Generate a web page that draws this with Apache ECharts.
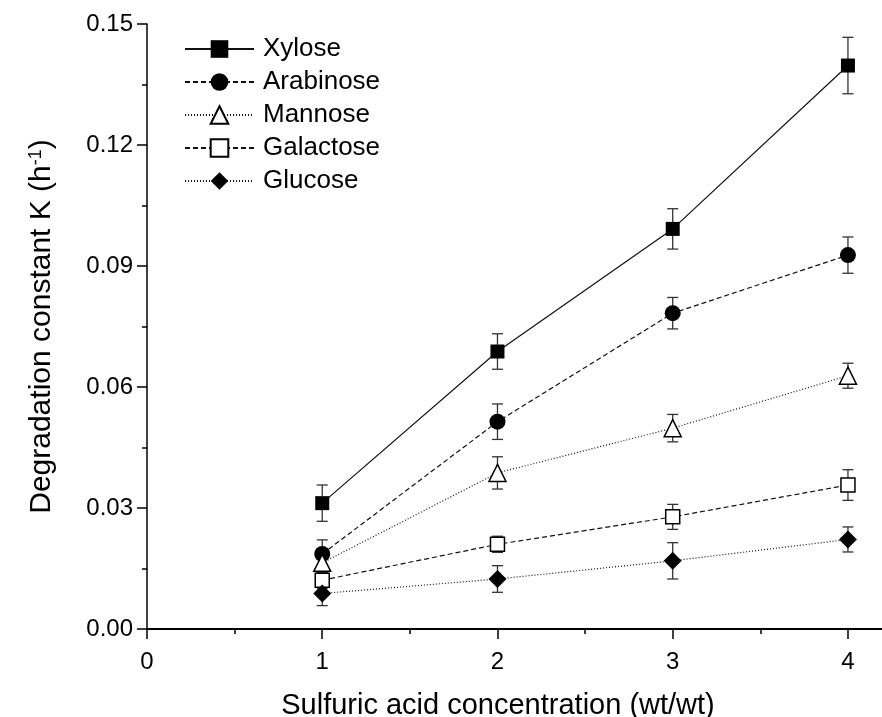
<!DOCTYPE html>
<html lang="en">
<head>
<meta charset="UTF-8">
<title>Degradation constant</title>
<style>
  html, body { margin: 0; padding: 0; background: #fff; }
  #main { width: 882px; height: 717px; }
</style>
</head>
<body>
<div id="main"></div>
<script src="https://cdn.jsdelivr.net/npm/echarts@6/dist/echarts.min.js"></script>
<script>
var conc = [1, 2, 3, 4];
var sugars = ['Xylose', 'Arabinose', 'Mannose', 'Galactose', 'Glucose'];
var xylose = [0.0312, 0.0688, 0.0992, 0.1397];
var xyloseErr = [0.0045, 0.0044, 0.0050, 0.0070];
var arabinose = [0.0186, 0.0514, 0.0783, 0.0927];
var arabinoseErr = [0.0035, 0.0044, 0.0039, 0.0045];
var mannose = [0.0164, 0.0387, 0.0498, 0.0628];
var mannoseErr = [0.0025, 0.0040, 0.0034, 0.0031];
var galactose = [0.0121, 0.0210, 0.0278, 0.0357];
var galactoseErr = [0.0020, 0.0020, 0.0031, 0.0038];
var glucose = [0.0088, 0.0124, 0.0169, 0.0222];
var glucoseErr = [0.0030, 0.0033, 0.0045, 0.0031];
var xTicks = [0, 1, 2, 3, 4];
var xMinorTicks = [0.5, 1.5, 2.5, 3.5];

var FONT = "'Liberation Sans', Arial, sans-serif";

var values = [xylose, arabinose, mannose, galactose, glucose];
var errors = [xyloseErr, arabinoseErr, mannoseErr, galactoseErr, glucoseErr];
// marker / line look per sugar
var looks = [
    { symbol: 'rect', size: 14, fill: '#000', dash: 'solid' },
    { symbol: 'circle', size: 16, fill: '#000', dash: [5, 3] },
    { symbol: 'triangle', size: 17, fill: '#fff', dash: [1, 2] },
    { symbol: 'rect', size: 14, fill: '#fff', dash: [5, 3] },
    { symbol: 'diamond', size: 18, fill: '#000', dash: [1, 2] }
];

function pairs(vals) {
    return conc.map(function (c, i) { return [c, vals[i]]; });
}

function errorBar(params, api) {
    var x = api.value(0), y = api.value(1), e = api.value(2);
    var top = api.coord([x, y + e]);
    var bot = api.coord([x, y - e]);
    var cap = 5.5;
    var st = { stroke: '#333', lineWidth: 1.3 };
    return {
        type: 'group',
        children: [
            { type: 'line', shape: { x1: top[0], y1: top[1], x2: bot[0], y2: bot[1] }, style: st },
            { type: 'line', shape: { x1: top[0] - cap, y1: top[1], x2: top[0] + cap, y2: top[1] }, style: st },
            { type: 'line', shape: { x1: bot[0] - cap, y1: bot[1], x2: bot[0] + cap, y2: bot[1] }, style: st }
        ]
    };
}

var series = [];
sugars.forEach(function (name, k) {
    series.push({
        name: name + ' err',
        type: 'custom',
        renderItem: errorBar,
        data: conc.map(function (c, i) { return [c, values[k][i], errors[k][i]]; }),
        z: 1,
        silent: true
    });
});
sugars.forEach(function (name, k) {
    var lk = looks[k];
    series.push({
        name: name,
        type: 'line',
        data: pairs(values[k]),
        symbol: lk.symbol,
        symbolSize: lk.size,
        showAllSymbol: true,
        z: 3,
        lineStyle: { color: '#111', width: 1.2, type: lk.dash },
        itemStyle: { color: lk.fill, borderColor: '#000', borderWidth: lk.fill === '#fff' ? 1.5 : 0 }
    });
});

var myChart = echarts.init(document.getElementById('main'));
var option = {
    animation: false,
    backgroundColor: '#fff',
    textStyle: { fontFamily: FONT },
    grid: { left: 147, right: -1, top: 24, bottom: 88, outerBoundsMode: 'none', containLabel: false },
    legend: {
        data: sugars,
        orient: 'vertical',
        left: 184,
        top: 36,
        padding: 0,
        itemWidth: 69,
        itemHeight: 22,
        itemGap: 7,
        textStyle: { fontSize: 26, color: '#000', fontFamily: FONT, padding: [0, 0, 0, 4] }
    },
    xAxis: [{
        type: 'value',
        min: 0,
        max: 4.2,
        interval: 1,
        name: 'Sulfuric acid concentration (wt/wt)',
        nameLocation: 'middle',
        nameGap: 62,
        nameTextStyle: { fontSize: 29, color: '#000', fontFamily: FONT, padding: [0, 34, 0, 0] },
        splitLine: { show: false },
        axisLine: { lineStyle: { color: '#000', width: 2 } },
        axisTick: { customValues: xTicks, length: 10, lineStyle: { color: '#000', width: 1.5 } },
        axisLabel: { customValues: xTicks, margin: 21, fontSize: 24, color: '#000', fontFamily: FONT }
    }, {
        type: 'value',
        min: 0,
        max: 4.2,
        position: 'bottom',
        axisLine: { show: false },
        splitLine: { show: false },
        axisLabel: { show: false },
        axisTick: { customValues: xMinorTicks, length: 5, lineStyle: { color: '#000', width: 1.5 } }
    }],
    yAxis: {
        type: 'value',
        min: 0,
        max: 0.15,
        interval: 0.03,
        name: '{a|Degradation constant K (h}{s|-1}{a|)}',
        nameLocation: 'middle',
        nameGap: 90,
        nameRotate: 90,
        nameTextStyle: {
            color: '#000',
            rich: {
                a: { fontSize: 30, fontFamily: FONT, color: '#000' },
                s: { fontSize: 18, fontFamily: FONT, color: '#000', verticalAlign: 'top', padding: [0, 0, 12, 0] }
            }
        },
        splitLine: { show: false },
        axisLine: { lineStyle: { color: '#000', width: 1.5 } },
        axisTick: { length: 10, lineStyle: { color: '#000', width: 1.5 } },
        minorTick: { show: true, splitNumber: 2, length: 5, lineStyle: { color: '#000', width: 1.5 } },
        axisLabel: {
            margin: 14,
            fontSize: 24,
            color: '#000',
            fontFamily: FONT,
            formatter: function (v) { return v.toFixed(2); }
        }
    },
    series: series
};
myChart.setOption(option);
</script>
</body>
</html>
